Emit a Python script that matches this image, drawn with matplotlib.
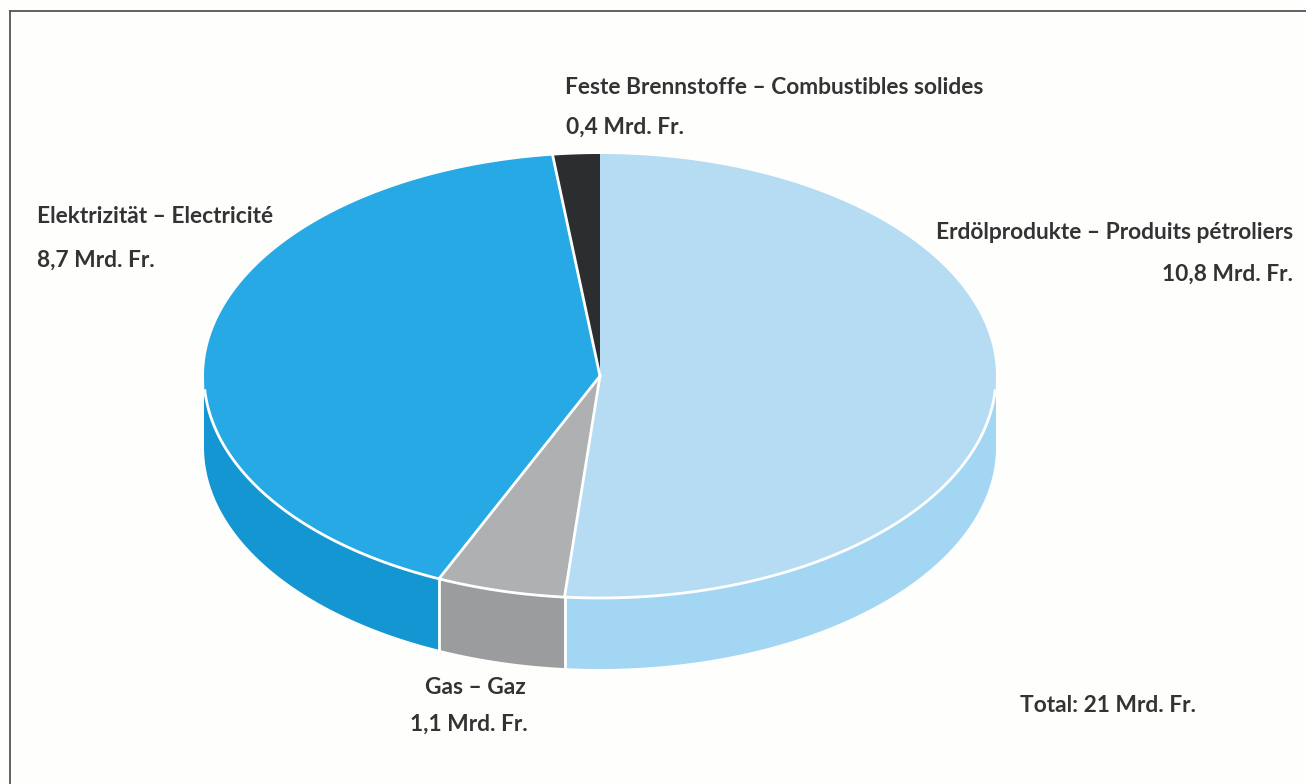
import numpy as np
import matplotlib
matplotlib.use("Agg")
import matplotlib.pyplot as plt
from matplotlib.patches import Polygon

categories = ["Erdölprodukte – Produits pétroliers", "Gas – Gaz", "Elektrizität – Electricité", "Feste Brennstoffe – Combustibles solides"]
values = [10.8, 1.1, 8.7, 0.4]
value_labels = ["10,8 Mrd. Fr.", "1,1 Mrd. Fr.", "8,7 Mrd. Fr.", "0,4 Mrd. Fr."]
top_colors = ["#B5DCF3", "#AEB0B2", "#27A9E6", "#2B2D2F"]
side_colors = ["#A3D6F3", "#9A9C9E", "#1496D2", "#1F2022"]
total_label = "Total: 21 Mrd. Fr."

CX, CY, RX, RY, DEPTH = 600, 376, 396, 222, 71
plt.rcParams["font.family"] = ["Lato", "DejaVu Sans"]

fig = plt.figure(figsize=(13.06, 7.84), dpi=100, facecolor="#FEFEFD")
ax = fig.add_axes([0, 0, 1, 1])
ax.set_xlim(0, 1306)
ax.set_ylim(784, 0)
ax.axis("off")

ax.plot([10, 10], [784, 11], color="#555555", lw=1.3)
ax.plot([10, 1306], [11, 11], color="#555555", lw=1.3)

def pt(theta):
    return CX + RX * np.sin(theta), CY - RY * np.cos(theta)

edges = np.concatenate([[0], np.cumsum(values)]) / sum(values) * 2 * np.pi
for a0, a1, col in zip(edges[:-1], edges[1:], side_colors):
    lo, hi = max(a0, np.pi / 2), min(a1, 3 * np.pi / 2)
    if hi > lo:
        t = np.linspace(lo, hi, 200)
        x, y = pt(t)
        xy = np.r_[np.c_[x, y], np.c_[x[::-1], y[::-1] + DEPTH]]
        ax.add_patch(Polygon(xy, closed=True, fc=col, ec="none"))
for a in edges:
    if np.pi / 2 < a < 3 * np.pi / 2:
        x, y = pt(a)
        ax.plot([x, x], [y, y + DEPTH], color="white", lw=2)
for a0, a1, col in zip(edges[:-1], edges[1:], top_colors):
    t = np.linspace(a0, a1, 400)
    x, y = pt(t)
    xy = np.r_[[[CX, CY]], np.c_[x, y]]
    ax.add_patch(Polygon(xy, closed=True, fc=col, ec="none"))
# white separators: radial lines and the front rim
for a in edges[1:-1]:
    x, y = pt(a)
    ax.plot([CX, x], [CY, y], color="white", lw=2)
t = np.linspace(np.pi / 2 + 0.06, 3 * np.pi / 2 - 0.06, 400)
x, y = pt(t)
ax.plot(x, y, color="white", lw=2, solid_capstyle="butt")

fs = 16.4
tk = dict(fontsize=fs, fontweight="bold", color="#333333", va="center")
ax.text(565, 87, categories[3], ha="left", **tk)
ax.text(566, 127, value_labels[3], ha="left", **tk)
ax.text(37, 216, categories[2], ha="left", **tk)
ax.text(37, 260, value_labels[2], ha="left", **tk)
ax.text(1293, 232, categories[0], ha="right", **tk)
ax.text(1293, 274, value_labels[0], ha="right", **tk)
ax.text(475, 688, categories[1], ha="center", **tk)
ax.text(469, 724, value_labels[1], ha="center", **tk)
ax.text(1020, 705, total_label, ha="left", **tk)

fig.savefig("out.png", dpi=100, facecolor=fig.get_facecolor())
